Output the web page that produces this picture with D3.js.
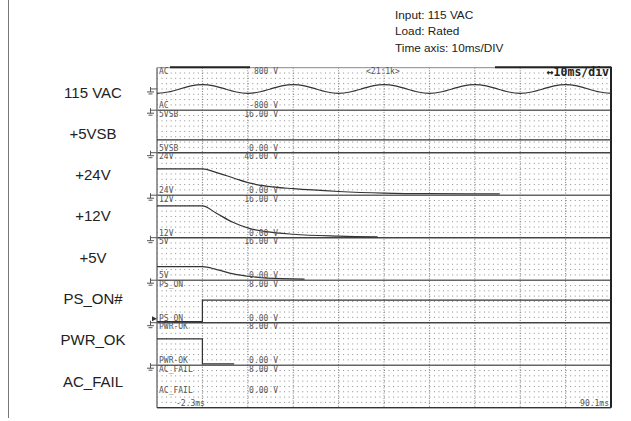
<!DOCTYPE html>
<html>
<head>
<meta charset="utf-8">
<script src="https://cdn.jsdelivr.net/npm/d3@7"></script>
<style>
  html, body { margin: 0; padding: 0; background: #fff; }
  svg { display: block; }
</style>
</head>
<body>
<div id="chart"></div>
<script>
// channel setup (top to bottom)
const channelIds = ["AC", "5VSB", "24V", "12V", "5V", "PS_ON", "PWR-OK", "AC_FAIL"];
const channelLabels = ["115 VAC", "+5VSB", "+24V", "+12V", "+5V", "PS_ON#", "PWR_OK", "AC_FAIL"];
const channelMin = [-800, 0, 0, 0, 0, 0, 0, 0];
const channelMax = [800, 16, 40, 16, 16, 8, 8, 8];
const topTexts = ["800 V", "16.00 V", "40.00 V", "16.00 V", "16.00 V", "8.00 V", "8.00 V", "8.00 V"];
const bottomTexts = ["-800 V", "0.00 V", "0.00 V", "0.00 V", "0.00 V", "0.00 V", "0.00 V", "0.00 V"];

const notes = ["Input: 115 VAC", "Load: Rated", "Time axis: 10ms/DIV"];
const timeLabels = ["-2.3ms", "90.1ms"];

// traces, time in ms, value in V
const acTime = [-10, -7.5, -5, -2.5, 0, 2.5, 5, 7.5, 10, 12.5, 15, 17.5, 20, 22.5, 25, 27.5, 30, 32.5, 35, 37.5,
  40, 42.5, 45, 47.5, 50, 52.5, 55, 57.5, 60, 62.5, 65, 67.5, 70, 72.5, 75, 77.5, 80, 82.5, 85, 87.5, 90];
const acVolts = [-165, -115, 0, 115, 165, 115, 0, -115, -165, -115, 0, 115, 165, 115, 0, -115, -165, -115, 0, 115,
  165, 115, 0, -115, -165, -115, 0, 115, 165, 115, 0, -115, -165, -115, 0, 115, 165, 115, 0, -115, -165];

const vsbTime = [-10, 90];
const vsbVolts = [4.85, 4.85];

const v24Time = [-10, 0, 3, 7, 10.5, 14, 20, 30, 40, 50, 65.5];
const v24Volts = [24.7, 24.7, 21.5, 16, 11.3, 8.6, 6.1, 3.5, 2.0, 1.4, 1.2];

const v12Time = [-10, 0, 3, 6.7, 10.5, 14, 20, 30, 38.6];
const v12Volts = [12.0, 12.0, 9.3, 5.8, 3.4, 2.3, 1.3, 0.6, 0.3];

const v5Time = [-10, 0, 3.2, 6.8, 10.5, 14.2, 22.5];
const v5Volts = [5.1, 5.1, 4.0, 2.4, 1.4, 0.8, 0.4];

const psOnTime = [-10, 0, 90];
const psOnVolts = [0.2, 4.25, 4.25];

const pwrOkTime = [-10, 0, 7];
const pwrOkVolts = [4.95, 0.25, 0.25];

const acFailTime = [-10, 90];
const acFailVolts = [0, 0];

const traces = [
  { ch: "AC", t: acTime, v: acVolts, curve: d3.curveNatural },
  { ch: "5VSB", t: vsbTime, v: vsbVolts, curve: d3.curveLinear },
  { ch: "24V", t: v24Time, v: v24Volts, curve: d3.curveMonotoneX },
  { ch: "12V", t: v12Time, v: v12Volts, curve: d3.curveMonotoneX },
  { ch: "5V", t: v5Time, v: v5Volts, curve: d3.curveMonotoneX },
  { ch: "PS_ON", t: psOnTime, v: psOnVolts, curve: d3.curveStepAfter },
  { ch: "PWR-OK", t: pwrOkTime, v: pwrOkVolts, curve: d3.curveStepAfter },
  { ch: "AC_FAIL", t: acFailTime, v: acFailVolts, curve: d3.curveLinear }
];

const W = 631, H = 421;
const x0 = 157, x1 = 611, yTop = 67.7, yBot = 407.7;
const mono = "'DejaVu Sans Mono', monospace";
const sans = "'Liberation Sans', Arial, sans-serif";

const svg = d3.select("#chart").append("svg")
  .attr("width", W).attr("height", H);

svg.append("rect").attr("width", W).attr("height", H).attr("fill", "#fff");

// page rule on the left
svg.append("line")
  .attr("x1", 8.5).attr("x2", 8.5).attr("y1", 0).attr("y2", 418)
  .attr("stroke", "#777").attr("stroke-width", 1);

const x = d3.scaleLinear().domain([-10, 90]).range([x0, x1]);
const band = d3.scaleBand().domain(channelIds).range([yTop, yBot]);
const h = band.bandwidth();
// names on the left sit on their own slightly tighter spacing
const labelY = d3.scalePoint().domain(channelIds).range([92, 381]);

const yOf = channelIds.map((id, i) => d3.scaleLinear()
  .domain([channelMin[i], channelMax[i]])
  .range([band(id) + h, band(id)]));

// --- grid ---
const grid = svg.append("g");
const rowStep = h / 8;
d3.range(1, channelIds.length * 8).filter(i => i % 8 !== 0).forEach(i => {
  const yy = yTop + i * rowStep;
  grid.append("line")
    .attr("x1", x0).attr("x2", x1).attr("y1", yy).attr("y2", yy)
    .attr("stroke", "#8a8a8a").attr("stroke-width", 1)
    .attr("stroke-dasharray", "1," + ((x1 - x0) / 100 - 1));
});
x.ticks(10).filter(t => t > -10 && t < 90).forEach(t => {
  grid.append("line")
    .attr("x1", x(t)).attr("x2", x(t)).attr("y1", yTop).attr("y2", yBot)
    .attr("stroke", "#777").attr("stroke-width", 1)
    .attr("stroke-dasharray", "1,1.6");
});

// channel separators
channelIds.slice(1).forEach((id, i) => {
  svg.append("line")
    .attr("x1", x0).attr("x2", x1).attr("y1", band(id)).attr("y2", band(id))
    .attr("stroke", i % 2 ? "#444" : "#666").attr("stroke-width", 1.4);
});

// frame
svg.append("line").attr("x1", x0).attr("x2", x0).attr("y1", yTop).attr("y2", yBot)
  .attr("stroke", "#777").attr("stroke-width", 1.5);
svg.append("line").attr("x1", x1).attr("x2", x1).attr("y1", yTop - 1).attr("y2", yBot)
  .attr("stroke", "#222").attr("stroke-width", 2);
svg.append("line").attr("x1", x0).attr("x2", x1).attr("y1", yTop).attr("y2", yTop)
  .attr("stroke", "#888").attr("stroke-width", 1);
svg.append("line").attr("x1", x0).attr("x2", x1).attr("y1", yBot).attr("y2", yBot)
  .attr("stroke", "#555").attr("stroke-width", 1.2);
[[170, 250], [495, 611]].forEach(([a, b]) => {
  svg.append("line").attr("x1", a).attr("x2", b).attr("y1", yTop - 0.5).attr("y2", yTop - 0.5)
    .attr("stroke", "#222").attr("stroke-width", 2);
});

// ground marks
function ground(yy) {
  const g = svg.append("g").attr("stroke", "#555").attr("stroke-width", 1).attr("fill", "none");
  g.append("path").attr("d", `M150.5,${yy} H157 M150.5,${yy - 2} V${yy + 3} M147,${yy + 3} H154 M148.5,${yy + 5} H152.5`);
}
ground(yOf[0](0));
channelIds.slice(1).forEach(id => ground(band(id)));
// PS_ON reference marker
const psIdx = channelIds.indexOf("PS_ON");
const psZero = yOf[psIdx](0) - 4;
svg.append("path")
  .attr("d", `M152,${psZero - 2.5} L157,${psZero} L152,${psZero + 2.5} Z`)
  .attr("fill", "#333");

// --- traces ---
traces.forEach(tr => {
  const i = channelIds.indexOf(tr.ch);
  const pts = tr.t.map((t, k) => [t, tr.v[k]]);
  svg.append("path")
    .datum(pts)
    .attr("fill", "none")
    .attr("stroke", "#333")
    .attr("stroke-width", 1.2)
    .attr("d", d3.line().curve(tr.curve).x(d => x(d[0])).y(d => yOf[i](d[1])));
});

// --- scope texts ---
const st = svg.append("g").attr("font-family", mono).attr("font-size", 8).attr("fill", "#555");
channelIds.forEach((id, i) => {
  const top = band(id), bot = top + h;
  const botBase = i === channelIds.length - 1 ? bot - 15 : bot - 1.8;
  st.append("text").attr("x", 159).attr("y", top + 6.5).text(id);
  st.append("text").attr("x", 278).attr("y", top + 6.5).attr("text-anchor", "end").text(topTexts[i]);
  st.append("text").attr("x", 159).attr("y", botBase).text(id);
  st.append("text").attr("x", 278).attr("y", botBase).attr("text-anchor", "end").text(bottomTexts[i]);
});
st.append("text").attr("x", 366).attr("y", yTop + 6.5).text("<21:1k>");
st.append("text").attr("x", 176).attr("y", yBot - 2).text(timeLabels[0]);
st.append("text").attr("x", 609).attr("y", yBot - 2).attr("text-anchor", "end").text(timeLabels[1]);
svg.append("text")
  .attr("x", 609).attr("y", yTop + 8).attr("text-anchor", "end")
  .attr("font-family", mono).attr("font-size", 11.5).attr("font-weight", "bold").attr("fill", "#222")
  .text("\u219410ms/div");

// --- left labels ---
channelIds.forEach((id, i) => {
  svg.append("text")
    .attr("x", 93).attr("y", labelY(id) + 5.5)
    .attr("text-anchor", "middle")
    .attr("font-family", sans).attr("font-size", 15).attr("fill", "#222")
    .text(channelLabels[i]);
});

// --- notes top right ---
notes.forEach((n, i) => {
  svg.append("text")
    .attr("x", 395).attr("y", 18.5 + i * 16.5)
    .attr("font-family", sans).attr("font-size", 11.8).attr("fill", "#222")
    .text(n);
});
</script>
</body>
</html>
